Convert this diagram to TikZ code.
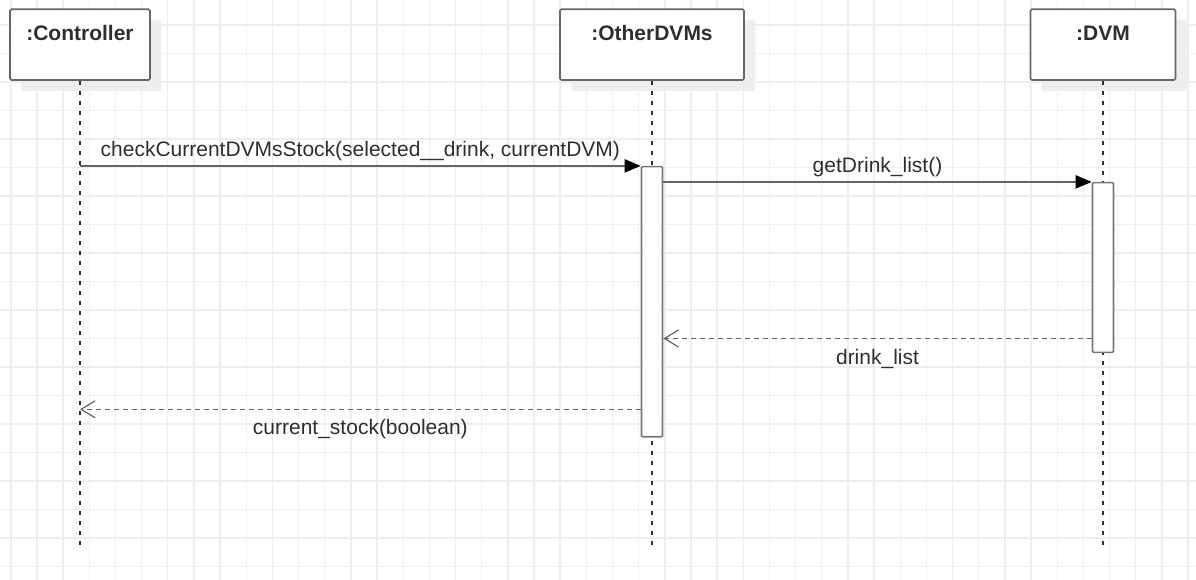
\documentclass[tikz,border=0pt]{standalone}
\usepackage{fontspec}
\setmainfont{Liberation Sans}
\usetikzlibrary{arrows.meta}
\usetikzlibrary{shadows}
\definecolor{gridgray}{HTML}{EEEEEE}
\definecolor{linegray}{HTML}{666666}
\definecolor{bargray}{HTML}{777777}
\definecolor{textgray}{HTML}{2E2E2E}
\tikzset{gridline/.style={draw=gridgray, line width=1.4pt},
objbox/.style={draw=linegray, line width=1.6pt, fill=white, rounded corners=1.5pt, minimum width=#1, minimum height=70.7pt, inner sep=0pt, text height=31pt, text depth=39.7pt, font=\fontsize{21}{25}\selectfont\bfseries, text=textgray, drop shadow={shadow xshift=11pt, shadow yshift=-11pt, opacity=1, fill=gridgray}},
actbar/.style={draw=bargray, line width=1.6pt, fill=white, rounded corners=1pt, minimum width=21pt, minimum height=#1, inner sep=0pt},
lifeline/.style={draw=textgray, line width=1.3pt, dash pattern=on 4.5pt off 5.5pt},
callmsg/.style={draw=linegray, line width=2pt, -{Triangle[length=16pt, width=13pt, color=black]}},
replymsg/.style={draw=linegray, line width=1.4pt, dash pattern=on 4.5pt off 4.5pt, -{Straight Barb[length=14pt, width=17pt, line width=1.2pt]}},
msgtext/.style={font=\fontsize{21}{25}\selectfont, text=textgray, inner sep=0pt, anchor=base}}
\begin{document}
\begin{tikzpicture}[x=1pt, y=-1pt]
\useasboundingbox (0,0) rectangle (1196,580);
\fill[white] (0,0) rectangle (1196,580);
\foreach \i in {0,...,45} \draw[gridline] ({10.8+26.16*\i},0) -- ({10.8+26.16*\i},580);
\foreach \j in {0,...,19} \draw[gridline] (0,{25+28.5*\j}) -- (1196,{25+28.5*\j});
\node[objbox=140pt] (ctrl) at (80,44.65) {:Controller};
\node[objbox=184pt] (other) at (652,44.65) {:OtherDVMs};
\node[objbox=145pt] (dvm) at (1103,44.65) {:DVM};
\coordinate (ctrlend) at (80,546);
\coordinate (otherend) at (652,546);
\coordinate (dvmend) at (1103,546);
\draw[lifeline] (ctrl.south) -- (ctrlend);
\draw[lifeline] (other.south) -- (otherend);
\draw[lifeline] (dvm.south) -- (dvmend);
\node[actbar=270pt] (otherbar) at (652,301.7) {};
\node[actbar=169.6pt] (dvmbar) at (1103,267.5) {};
\draw[callmsg] (ctrl.south |- otherbar.north west) -- node[msgtext, yshift=9.5pt]{checkCurrentDVMsStock(selected\_\_drink, currentDVM)} (otherbar.north west);
\draw[callmsg] (otherbar.east |- dvmbar.north west) -- node[msgtext, yshift=9.5pt]{getDrink\_list()} (dvmbar.north west);
\path (dvmbar.south west) ++(0,-14.6) coordinate (drinkret);
\draw[replymsg] (drinkret) -- node[msgtext, yshift=-25.6pt]{drink\_list} (drinkret -| otherbar.east);
\path (otherbar.south west) ++(0,-28.2) coordinate (stockret);
\draw[replymsg] (stockret) -- node[msgtext, yshift=-24.8pt]{current\_stock(boolean)} (stockret -| ctrl.south);
\end{tikzpicture}
\end{document}
